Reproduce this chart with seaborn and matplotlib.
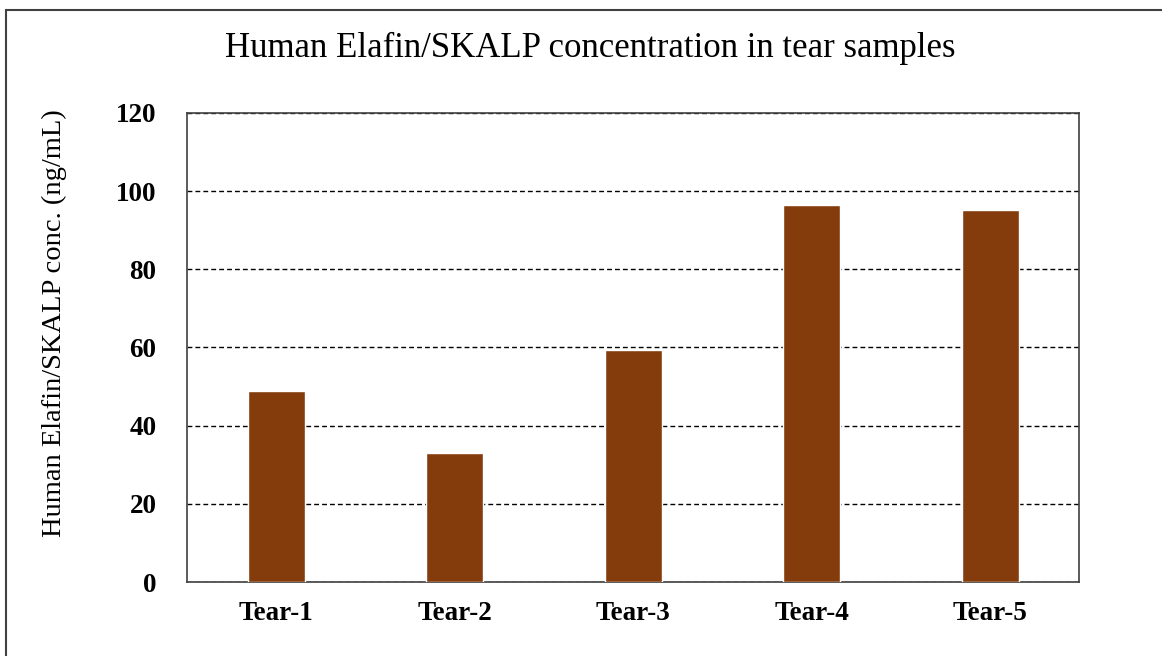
import numpy as np
import pandas as pd
import seaborn as sns
import matplotlib.pyplot as plt
from matplotlib.patches import Rectangle

samples = ['Tear-1', 'Tear-2', 'Tear-3', 'Tear-4', 'Tear-5']
conc = [48.8, 33.0, 59.3, 96.5, 95.2]

df = pd.DataFrame({'sample': samples, 'conc': conc})

sns.set_theme(style='white')
plt.rcParams['font.family'] = ['Liberation Serif', 'DejaVu Serif']
plt.rcParams['text.color'] = 'black'
plt.rcParams['axes.labelcolor'] = 'black'
plt.rcParams['xtick.color'] = 'black'
plt.rcParams['ytick.color'] = 'black'

fig = plt.figure(figsize=(11.62, 6.56), dpi=100)
ax = fig.add_axes([0.161, 0.1128, 0.768, 0.715])

sns.barplot(data=df, x='sample', y='conc', color='#843C0C', saturation=1,
            width=0.32, ax=ax, zorder=3)

ax.set_ylim(0, 120)
ax.set_yticks(np.arange(0, 121, 20))
ax.yaxis.grid(True, linestyle=(0, (3.5, 2.2)), color='black', linewidth=1, zorder=0)
ax.set_axisbelow(True)
for s in ax.spines.values():
    s.set_color('#404040')
    s.set_linewidth(1.2)
ax.tick_params(axis='y', length=0, pad=22, labelsize=19.5)
ax.tick_params(axis='x', length=0, pad=14, labelsize=19.5)
for lbl in ax.get_xticklabels() + ax.get_yticklabels():
    lbl.set_fontweight('bold')
ax.set_xlabel('')
ax.set_ylabel('Human Elafin/SKALP conc. (ng/mL)', fontsize=20.5)
ax.yaxis.set_label_coords(-0.135, 0.552)

fig.text(0.508, 0.926, 'Human Elafin/SKALP concentration in tear samples',
         ha='center', va='center', fontsize=25)

fig.patches.append(Rectangle((6 / 1162, -0.05), 1.1, 1.05 - 10 / 656,
                             transform=fig.transFigure, fill=False,
                             edgecolor='#404040', linewidth=1.5))

fig.savefig('out.png', dpi=100)
